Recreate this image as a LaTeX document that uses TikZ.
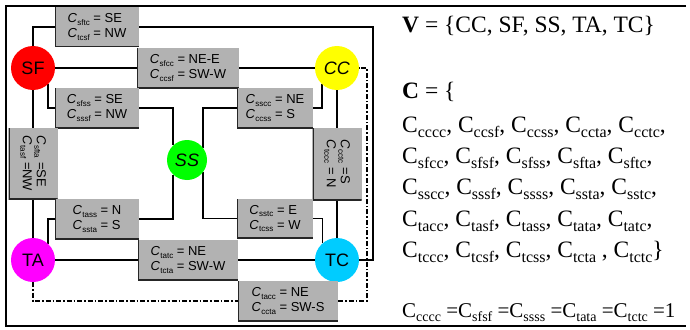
\documentclass[tikz,border=0pt]{standalone}
\usepackage{fontspec}
\setmainfont{Liberation Sans}
\newfontfamily\tnr{Liberation Serif}
\usetikzlibrary{backgrounds}
\definecolor{boxgray}{RGB}{178,178,178}
\definecolor{tccyan}{RGB}{0,204,255}
\definecolor{vred}{RGB}{255,0,0}
\definecolor{vyellow}{RGB}{255,255,0}
\definecolor{vgreen}{RGB}{0,255,0}
\definecolor{vmagenta}{RGB}{255,0,255}
\newcommand\Cs[1]{\textit{C}\kern0.3pt\raisebox{-2.5pt}{\fontsize{8}{8}\selectfont #1}}
\newcommand\Ts[1]{C\raisebox{-5pt}{\fontsize{16}{16}\selectfont #1}}
\newcommand\Tq[1]{C\raisebox{-4.5pt}{\fontsize{14}{14}\selectfont #1}}
\begin{document}
\begin{tikzpicture}[x=1pt,y=-1pt,
  conn/.style={line width=1.3pt},
  dconn/.style={line width=1.3pt,dash pattern=on 5pt off 2pt on 1.5pt off 2pt},
  frameline/.style={line width=2.2pt},
  vtx/.style={circle,inner sep=0pt,minimum size=44pt,font=\fontsize{18}{18}\selectfont},
  gbox/.style={fill=boxgray,inner sep=0pt,align=left,font=\fontsize{13}{15}\selectfont,
    path picture={\draw[line width=2pt,black!85] (path picture bounding box.north west) -- (path picture bounding box.south west) -- (path picture bounding box.south east);}},
  vlab/.style={rotate=-90,align=left,inner sep=0pt,font=\fontsize{13}{14}\selectfont},
  rtext/.style={anchor=base west,inner sep=0pt,font=\tnr\fontsize{23.5}{23.5}\selectfont}
]
\useasboundingbox (0,0) rectangle (690,329);

% vertices
\node[vtx,fill=vred] (sf) at (33,68) {SF};
\node[vtx,fill=vyellow] (cc) at (337,68) {\textit{CC}};
\node[vtx,fill=vgreen,minimum size=40pt] (ss) at (187,160) {\textit{SS}};
\node[vtx,fill=vmagenta] (ta) at (33,260) {TA};
\node[vtx,fill=tccyan] (tc) at (337,260) {TC};

% label boxes
\node[gbox,minimum width=84pt,minimum height=40pt] (b1) at (97,27) {\Cs{sftc} = SE\\ \Cs{tcsf} = NW};
\node[gbox,minimum width=102pt,minimum height=40pt] (b2) at (188,68) {\Cs{sfcc} = NE-E\\ \Cs{ccsf} = SW-W};
\node[gbox,minimum width=84pt,minimum height=40pt] (b3) at (97,108) {\Cs{sfss} = SE\\ \Cs{sssf} = NW};
\node[gbox,minimum width=76pt,minimum height=40pt] (b4) at (275,108) {\Cs{sscc} = NE\\ \Cs{ccss} = S};
\node[gbox,minimum width=49pt,minimum height=71pt] (b5) at (33,163.5) {};
\node[vlab] (l5) at (b5) {\Cs{sfta} =SE\\ \Cs{tasf} =NW};
\node[gbox,minimum width=49pt,minimum height=72pt] (b6) at (337,164) {};
\node[vlab] (l6) at (b6) {\Cs{cctc} =S\\ \Cs{tccc} = N};
\node[gbox,minimum width=84pt,minimum height=40pt] (b7) at (97,219) {\Cs{tass} = N\\ \Cs{ssta} = S};
\node[gbox,minimum width=76pt,minimum height=39pt] (b8) at (275,218.5) {\Cs{sstc} = E\\ \Cs{tcss} = W};
\node[gbox,minimum width=100pt,minimum height=40pt] (b9) at (188,260) {\Cs{tatc} = NE\\ \Cs{tcta} = SW-W};
\node[gbox,minimum width=100pt,minimum height=40pt] (b10) at (288,301) {\Cs{tacc} = NE\\ \Cs{ccta} = SW-S};

\coordinate (rt) at (373,27);
\coordinate (dr) at (367,301);

\begin{pgfonlayer}{background}
\draw[frameline] (686,6) -- (6,6) -- (6,326) -- (686,326);
% SF-TC
\draw[conn] (sf.north) |- (b1.west);
\draw[conn] (b1.east) -- (rt) |- (tc.east);
% SF-CC
\draw[conn] (sf.east) -- (b2.west);
\draw[conn] (b2.east) -- (cc.west);
% SF-SS
\draw[conn] (sf.-47) |- (b3.west);
\draw[conn] (b3.east) -| (ss.134);
% SF-TA
\draw[conn] (sf.south) -- (b5.north);
\draw[conn] (b5.south) -- (ta.north);
% CC-SS
\draw[conn] (cc.-133) |- (b4.east);
\draw[conn] (b4.west) -| (ss.37);
% CC-TC
\draw[conn] (cc.south) -- (b6.north);
\draw[conn] (b6.south) -- (tc.north);
% SS-TA
\draw[conn] (ss.-134) |- (b7.east);
\draw[conn] (b7.west) -| (ta.47);
% SS-TC
\draw[conn] (ss.-37) |- (b8.west);
\draw[conn] (b8.east) -| (tc.130);
% TA-TC
\draw[conn] (ta.east) -- (b9.west);
\draw[conn] (b9.east) -- (tc.west);
% TA-CC dashed
\draw[dconn] (ta.south) |- (b10.west);
\draw[dconn] (b10.east) -- (dr) |- (cc.east);
\end{pgfonlayer}

% right panel
\node[rtext] (t1) at (402,33) {\textbf{V} = \{CC, SF, SS, TA, TC\}};
\node[rtext] (t2) at (402,98) {\textbf{C} = \{};
\node[rtext] (t3) at (402,132) {\Ts{cccc}, \Ts{ccsf}, \Ts{ccss}, \Ts{ccta}, \Ts{cctc},};
\node[rtext] (t4) at (402,163) {\Ts{sfcc}, \Ts{sfsf}, \Ts{sfss}, \Ts{sfta}, \Ts{sftc},};
\node[rtext] (t5) at (402,194) {\Ts{sscc}, \Ts{sssf}, \Ts{ssss}, \Ts{ssta}, \Ts{sstc},};
\node[rtext] (t6) at (402,226) {\Ts{tacc}, \Ts{tasf}, \Ts{tass}, \Ts{tata}, \Ts{tatc},};
\node[rtext] (t7) at (402,257) {\Ts{tccc}, \Ts{tcsf}, \Ts{tcss}, \Ts{tcta} , \Ts{tctc}\}};
\node[rtext,font=\tnr\fontsize{21}{21}\selectfont] (t8) at (402,317) {\Tq{cccc} =\Tq{sfsf} =\Tq{ssss} =\Tq{tata} =\Tq{tctc} =1};
\end{tikzpicture}
\end{document}
